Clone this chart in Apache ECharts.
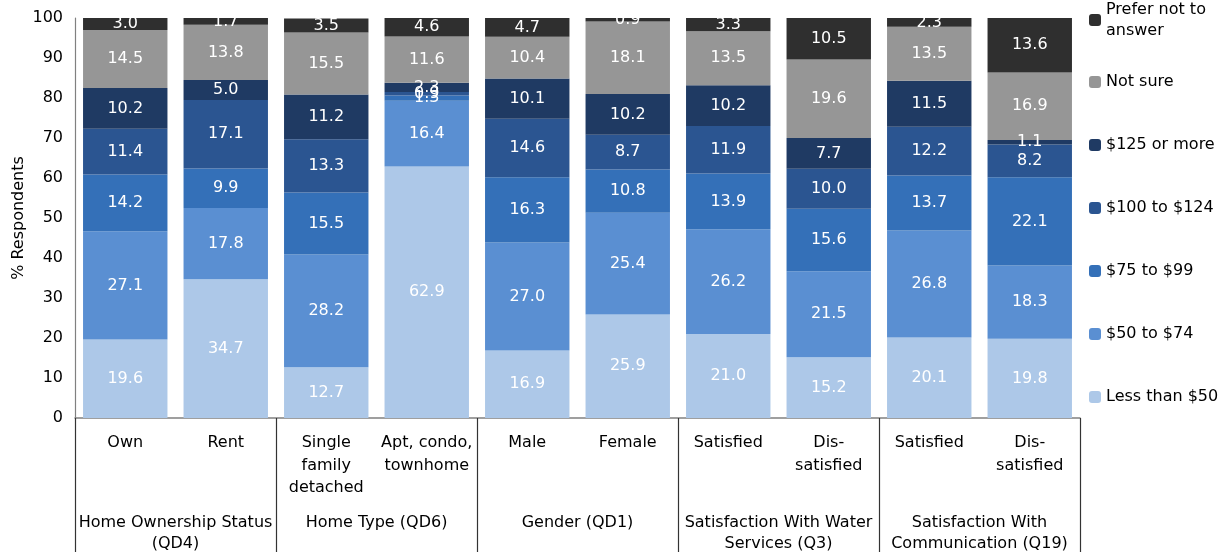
<!DOCTYPE html>
<html>
<head>
<meta charset="utf-8">
<script src="https://cdn.jsdelivr.net/npm/echarts@6/dist/echarts.min.js"></script>
<style>html,body{margin:0;padding:0;background:#fff;}#c{width:1225px;height:552px;}</style>
</head>
<body>
<div id="c"></div>
<script>
const categories = ['Own', 'Rent', 'Single\nfamily\ndetached', 'Apt, condo,\ntownhome', 'Male', 'Female', 'Satisfied', 'Dis-\nsatisfied', 'Satisfied', 'Dis-\nsatisfied'];
const groups = ['Home Ownership Status\n(QD4)', 'Home Type (QD6)', 'Gender (QD1)', 'Satisfaction With Water\nServices (Q3)', 'Satisfaction With\nCommunication (Q19)'];
const yTicks = [0, 10, 20, 30, 40, 50, 60, 70, 80, 90, 100];

const lessThan50  = [19.6, 34.7, 12.7, 62.9, 16.9, 25.9, 21.0, 15.2, 20.1, 19.8];
const from50to74  = [27.1, 17.8, 28.2, 16.4, 27.0, 25.4, 26.2, 21.5, 26.8, 18.3];
const from75to99  = [14.2, 9.9, 15.5, 1.3, 16.3, 10.8, 13.9, 15.6, 13.7, 22.1];
const from100to124 = [11.4, 17.1, 13.3, 0.9, 14.6, 8.7, 11.9, 10.0, 12.2, 8.2];
const over125     = [10.2, 5.0, 11.2, 2.3, 10.1, 10.2, 10.2, 7.7, 11.5, 1.1];
const notSure     = [14.5, 13.8, 15.5, 11.6, 10.4, 18.1, 13.5, 19.6, 13.5, 16.9];
const preferNot   = [3.0, 1.7, 3.5, 4.6, 4.7, 0.9, 3.3, 10.5, 2.3, 13.6];

const seriesDefs = [
  ['Less than $50', lessThan50, '#adc8e8'],
  ['$50 to $74', from50to74, '#5a8fd2'],
  ['$75 to $99', from75to99, '#3470b8'],
  ['$100 to $124', from100to124, '#2b5591'],
  ['$125 or more', over125, '#1f3a63'],
  ['Not sure', notSure, '#969696'],
  ['Prefer not to answer', preferNot, '#2f2f2f']
];

const FONT = 'DejaVu Sans';
const chart = echarts.init(document.getElementById('c'));
chart.setOption({
  animation: false,
  textStyle: { fontFamily: FONT },
  grid: { left: 75, right: 145, top: 18, bottom: 134, containLabel: false, outerBoundsMode: 'none' },
  legend: [
    {
      orient: 'vertical', left: 1089, top: -12, padding: 0,
      itemWidth: 12, itemHeight: 12,
      data: ['Prefer not to answer'],
      formatter: () => 'Prefer not to\nanswer',
      textStyle: { fontFamily: FONT, fontSize: 16, color: '#000', lineHeight: 21, padding: [22, 0, 0, 0] }
    },
    {
      orient: 'vertical', left: 1089, top: 72, padding: 0,
      itemWidth: 12, itemHeight: 12, itemGap: 43,
      data: ['Not sure', '$125 or more', '$100 to $124', '$75 to $99', '$50 to $74', 'Less than $50'],
      textStyle: { fontFamily: FONT, fontSize: 16, color: '#000', lineHeight: 20 }
    }
  ],
  xAxis: [
    {
      type: 'category', data: categories, position: 'bottom',
      axisLine: { show: true, lineStyle: { color: '#808080', width: 1.5 } },
      axisTick: { show: false },
      axisLabel: { interval: 0, margin: 14, fontSize: 16, lineHeight: 22.5, color: '#000', fontFamily: FONT }
    },
    {
      type: 'category', data: groups, position: 'bottom',
      axisLine: { show: false },
      axisTick: { show: true, length: 134, interval: 0, lineStyle: { color: '#333', width: 1.2 } },
      axisLabel: { interval: 0, margin: 94, fontSize: 16, lineHeight: 21, color: '#000', fontFamily: FONT }
    }
  ],
  yAxis: {
    type: 'value', min: 0, max: 100, interval: 10,
    name: '% Respondents', nameLocation: 'middle', nameGap: 48, nameRotate: 90,
    nameMoveOverlap: false,
    nameTextStyle: { fontSize: 16, color: '#000', fontFamily: FONT },
    axisLine: { show: true, lineStyle: { color: '#808080', width: 1.2 } },
    axisTick: { show: false },
    splitLine: { show: false },
    axisLabel: { margin: 12, fontSize: 16, color: '#000', fontFamily: FONT,
      customValues: yTicks }
  },
  series: seriesDefs.map(([name, data, color]) => ({
    name, type: 'bar', stack: 'total', data, xAxisIndex: 0,
    barCategoryGap: '16%',
    itemStyle: { color },
    label: { show: true, position: 'inside', color: '#fff', fontSize: 16, fontFamily: FONT,
      formatter: p => p.value.toFixed(1) }
  }))
});
</script>
</body>
</html>
